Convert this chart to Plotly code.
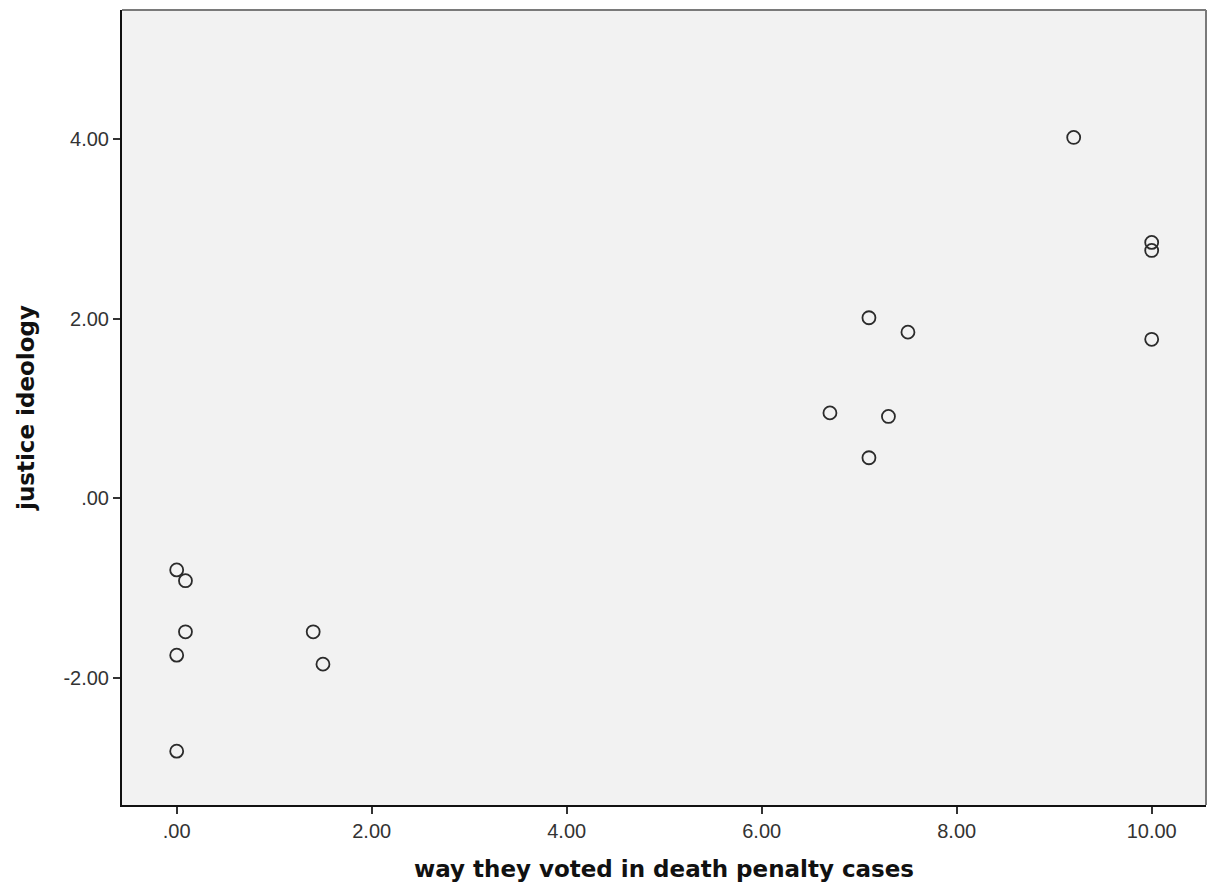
import plotly.graph_objects as go

death_penalty_votes = [0.0, 0.09, 0.09, 0.0, 0.0, 1.40, 1.50, 6.70, 7.10, 7.10, 7.30, 7.50, 9.20, 10.0, 10.0, 10.0]
justice_ideology = [-0.80, -0.92, -1.49, -1.75, -2.82, -1.49, -1.85, 0.95, 0.45, 2.01, 0.91, 1.85, 4.02, 2.85, 2.76, 1.77]

x_ticks = [0, 2, 4, 6, 8, 10]
x_tick_labels = [".00", "2.00", "4.00", "6.00", "8.00", "10.00"]
y_ticks = [-2, 0, 2, 4]
y_tick_labels = ["-2.00", ".00", "2.00", "4.00"]

fig = go.Figure()
fig.add_trace(go.Scatter(
    x=death_penalty_votes, y=justice_ideology, mode="markers",
    marker=dict(symbol="circle-open", size=13, color="#2b2b2b", line=dict(width=1.8, color="#2b2b2b")),
    showlegend=False, hoverinfo="x+y",
))

tick_font = dict(family="Liberation Sans, Arial, sans-serif", size=20, color="#333333")
title_font = dict(family="DejaVu Sans, Verdana, sans-serif", size=23, color="#111111")

fig.update_layout(
    width=1200, height=874,
    margin=dict(l=114, r=2, t=2, b=77),
    paper_bgcolor="white", plot_bgcolor="#f2f2f2",
    xaxis=dict(
        range=[-0.561, 10.557], tickvals=x_ticks, ticktext=x_tick_labels,
        showgrid=False, zeroline=False, showline=True, linecolor="#111111", linewidth=2,
        ticks="outside", ticklen=7, tickwidth=2, tickcolor="#333333", tickfont=tick_font,
        title=dict(text="<b>way they voted in death penalty cases</b>", font=title_font, standoff=23),
    ),
    yaxis=dict(
        range=[-3.42, 5.44], tickvals=y_ticks, ticktext=y_tick_labels,
        showgrid=False, zeroline=False, showline=True, linecolor="#111111", linewidth=2,
        ticks="outside", ticklen=7, tickwidth=2, tickcolor="#333333", tickfont=tick_font,
        title=dict(text="<b>justice ideology</b>", font=title_font, standoff=22),
    ),
    shapes=[
        dict(type="line", xref="x domain", yref="y domain", x0=0, x1=1, y0=1, y1=1,
             line=dict(color="#7a7a7a", width=2)),
        dict(type="line", xref="x domain", yref="y domain", x0=1, x1=1, y0=0, y1=1,
             line=dict(color="#7a7a7a", width=2)),
    ],
)

fig.write_html("out.html")
